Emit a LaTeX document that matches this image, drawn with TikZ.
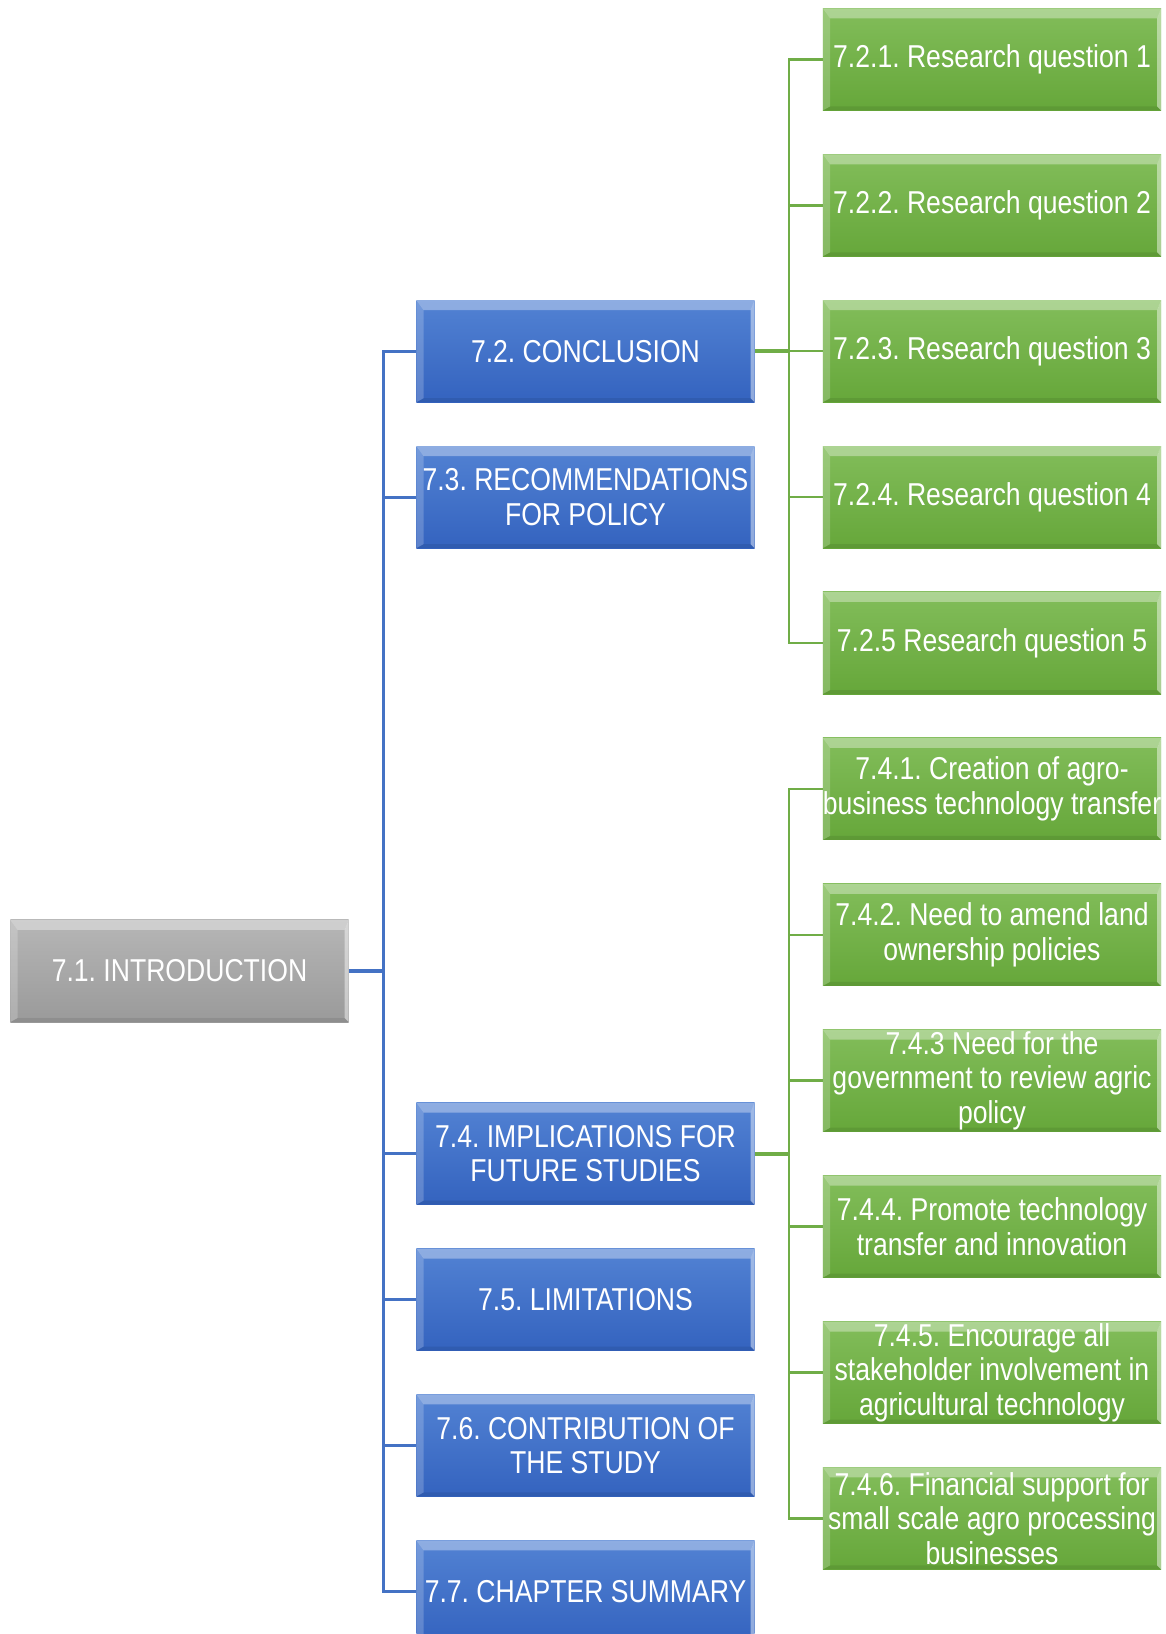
\documentclass[tikz,border=0pt]{standalone}
\usepackage{fontspec}
\setmainfont[FakeStretch=0.84]{Liberation Sans}
\frenchspacing
\usetikzlibrary{positioning}
\definecolor{greytop}{HTML}{B6B6B6}
\definecolor{greybot}{HTML}{9A9A9A}
\definecolor{bluetop}{HTML}{5282D3}
\definecolor{bluebot}{HTML}{3463BF}
\definecolor{greentop}{HTML}{82BD5A}
\definecolor{greenbot}{HTML}{66A73A}
\definecolor{bluelink}{HTML}{4472C4}
\definecolor{greenlink}{HTML}{70AD47}
\tikzset{
  bevel/.style={path picture={
      \fill[white,opacity=0.35] (path picture bounding box.north west) -- (path picture bounding box.north east)
        -- ([shift={(-0.1cm,-0.25cm)}]path picture bounding box.north east) -- ([shift={(0.18cm,-0.25cm)}]path picture bounding box.north west) -- cycle;
      \fill[white,opacity=0.2] (path picture bounding box.north west) -- ([shift={(0.18cm,-0.25cm)}]path picture bounding box.north west)
        -- ([shift={(0.18cm,0.1cm)}]path picture bounding box.south west) -- (path picture bounding box.south west) -- cycle;
      \fill[white,opacity=0.45] (path picture bounding box.north east) -- ([shift={(-0.1cm,-0.25cm)}]path picture bounding box.north east)
        -- ([shift={(-0.1cm,0.1cm)}]path picture bounding box.south east) -- (path picture bounding box.south east) -- cycle;
      \fill[black,opacity=0.08] (path picture bounding box.south west) -- ([shift={(0.18cm,0.1cm)}]path picture bounding box.south west)
        -- ([shift={(-0.1cm,0.1cm)}]path picture bounding box.south east) -- (path picture bounding box.south east) -- cycle;
    }},
  box/.style={minimum width=8.45cm, minimum height=2.55cm, inner sep=0pt, text=white, align=center,
    font=\fontsize{22.5}{24.4}\selectfont, bevel},
  greybox/.style={box, top color=greytop, bottom color=greybot},
  bluebox/.style={box, top color=bluetop, bottom color=bluebot},
  greenbox/.style={box, top color=greentop, bottom color=greenbot},
  bluewire/.style={draw=bluelink, line width=2.1pt},
  greenwire/.style={draw=greenlink, line width=1.8pt}
}
\begin{document}
\begin{tikzpicture}[x=0.025cm,y=-0.025cm]
  \useasboundingbox[fill=white] (0,0) rectangle (1165,1634);
  % root
  \node[greybox] (intro) at (179.5,971) {7.1. INTRODUCTION};
  % sections
  \node[bluebox] (concl) at (585.5,351.2) {7.2. CONCLUSION};
  \node[bluebox] (recom) at (585.5,497.1) {7.3. RECOMMENDATIONS\\FOR POLICY};
  \node[bluebox] (impl) at (585.5,1153.6) {7.4. IMPLICATIONS FOR\\FUTURE STUDIES};
  \node[bluebox] (limit) at (585.5,1299.5) {7.5. LIMITATIONS};
  \node[bluebox] (contr) at (585.5,1445.4) {7.6. CONTRIBUTION OF\\THE STUDY};
  \node[bluebox] (summ) at (585.5,1591.4) {7.7. CHAPTER SUMMARY};
  % research questions
  \node[greenbox] (rq1) at (992,59.4) {7.2.1. Research question 1};
  \node[greenbox] (rq2) at (992,205.3) {7.2.2. Research question 2};
  \node[greenbox] (rq3) at (992,351.2) {7.2.3. Research question 3};
  \node[greenbox] (rq4) at (992,497.1) {7.2.4. Research question 4};
  \node[greenbox] (rq5) at (992,643.0) {7.2.5 Research question 5};
  % implications
  \node[greenbox] (imp1) at (992,788.9) {7.4.1. Creation of agro-\\business technology transfer};
  \node[greenbox] (imp2) at (992,934.8) {7.4.2. Need to amend land\\ownership policies};
  \node[greenbox] (imp3) at (992,1080.7) {7.4.3 Need for the\\government to review agric\\policy};
  \node[greenbox] (imp4) at (992,1226.6) {7.4.4. Promote technology\\transfer and innovation};
  \node[greenbox] (imp5) at (992,1372.5) {7.4.5. Encourage all\\stakeholder involvement in\\agricultural technology};
  \node[greenbox] (imp6) at (992,1518.4) {7.4.6. Financial support for\\small scale agro processing\\businesses};
  % connectors
  \coordinate (bus) at (383.5,971);
  \coordinate (gbus) at (789,351.2);
  \draw[bluewire,line width=2.8pt] (intro.east) -- (intro.east -| bus);
  \foreach \n in {concl,recom,impl,limit,contr,summ}
    \draw[bluewire] (intro.east -| bus) |- (\n.west);
  \draw[greenwire,line width=2.8pt] (concl.east) -- (concl.east -| gbus);
  \foreach \n in {rq1,rq2,rq3,rq4,rq5}
    \draw[greenwire] (concl.east -| gbus) |- (\n.west);
  \draw[greenwire,line width=2.8pt] (impl.east) -- (impl.east -| gbus);
  \foreach \n in {imp1,imp2,imp3,imp4,imp5,imp6}
    \draw[greenwire] (impl.east -| gbus) |- (\n.west);
\end{tikzpicture}
\end{document}
